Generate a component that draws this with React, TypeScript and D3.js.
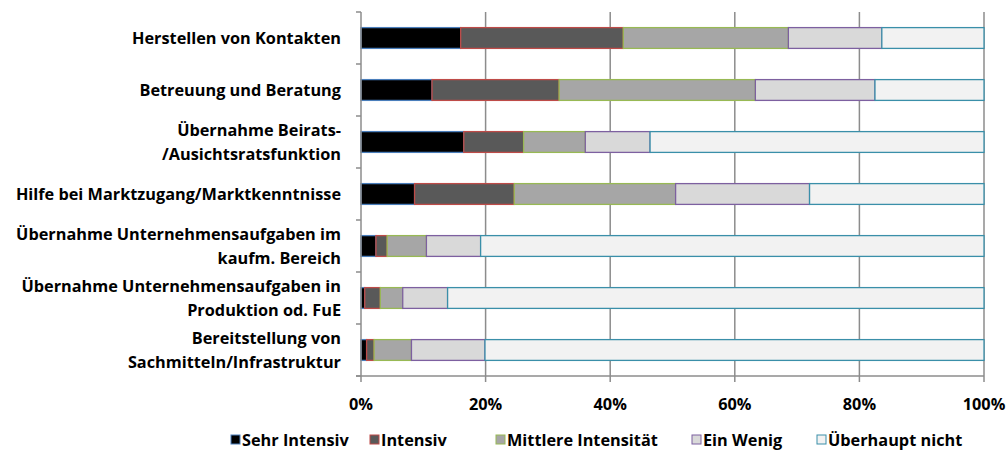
import React from "react";
import * as d3 from "d3";

const categories: string[][] = [
  ["Herstellen von Kontakten"],
  ["Betreuung und Beratung"],
  ["Übernahme Beirats-", "/Ausichtsratsfunktion"],
  ["Hilfe bei Marktzugang/Marktkenntnisse"],
  ["Übernahme Unternehmensaufgaben im", "kaufm. Bereich"],
  ["Übernahme Unternehmensaufgaben in", "Produktion od. FuE"],
  ["Bereitstellung von", "Sachmitteln/Infrastruktur"],
];

const seriesNames = ["Sehr Intensiv", "Intensiv", "Mittlere Intensität", "Ein Wenig", "Überhaupt nicht"];

const sehrIntensiv = [16.0, 11.4, 16.5, 8.6, 2.4, 0.6, 0.9];
const intensiv = [26.1, 20.4, 9.6, 16.0, 1.8, 2.5, 1.2];
const mittlere = [26.5, 31.5, 9.9, 25.9, 6.3, 3.6, 6.0];
const einWenig = [15.0, 19.2, 10.4, 21.5, 8.7, 7.2, 11.8];
const ueberhauptNicht = [16.4, 17.5, 53.6, 28.0, 80.8, 86.1, 80.1];

const xTicks = [0, 20, 40, 60, 80, 100];

const fills = ["#000000", "#595959", "#A6A6A6", "#D9D9D9", "#F2F2F2"];
const strokes = ["#4A7EBB", "#BE4B48", "#98B954", "#7D60A0", "#3A8FA9"];

export default function App() {
  const W = 1008, H = 452;
  const left = 361, right = 984, top = 12, bottom = 376;
  const font = "'Open Sans', sans-serif";
  const fs = 16.3;

  const seriesData = [sehrIntensiv, intensiv, mittlere, einWenig, ueberhauptNicht];
  const rows = categories.map((c, i) => {
    const o: any = { key: i };
    seriesNames.forEach((s, j) => (o[s] = seriesData[j][i]));
    return o;
  });
  const stacked = d3.stack<any>().keys(seriesNames)
    .offset(d3.stackOffsetExpand)(rows);

  const x = d3.scaleLinear().domain([0, 1]).range([left, right]);
  const y = d3.scaleBand<number>().domain(d3.range(categories.length))
    .range([top, bottom]).paddingInner(0.6).paddingOuter(0.3);
  const band = (bottom - top) / categories.length;

  const legendX = [231, 370, 496, 692, 817];

  return (
    <svg width={W} height={H} style={{ position: "absolute", left: 0, top: 0 }}>
      <rect width={W} height={H} fill="#fff" />
      {/* gridlines */}
      {xTicks.slice(1).map((t) => (
        <line key={t} x1={x(t / 100)} x2={x(t / 100)} y1={top} y2={bottom + 6}
          stroke="#8C8C8C" strokeWidth={1.5} />
      ))}
      {/* bars */}
      {stacked.map((s, j) => (
        <g key={s.key}>
          {s.map((d, i) => (
            <rect key={i} x={x(d[0])} y={y(i)} width={x(d[1]) - x(d[0])} height={y.bandwidth()}
              fill={fills[j]} stroke={strokes[j]} strokeWidth={1.3} />
          ))}
        </g>
      ))}
      {/* axes */}
      <line x1={left} x2={left} y1={top} y2={bottom + 6} stroke="#8C8C8C" strokeWidth={1.5} />
      <line x1={left - 5} x2={right} y1={bottom} y2={bottom} stroke="#8C8C8C" strokeWidth={1.5} />
      {d3.range(categories.length + 1).map((i) => (
        <line key={i} x1={left - 5} x2={left} y1={top + i * band} y2={top + i * band}
          stroke="#8C8C8C" strokeWidth={1.5} />
      ))}
      {/* x labels */}
      {xTicks.map((t) => (
        <text key={t} x={x(t / 100)} y={410} textAnchor="middle" fontFamily={font}
          fontWeight="bold" fontSize={fs} fill="#000">{t}%</text>
      ))}
      {/* category labels */}
      {categories.map((lines, i) => {
        const cy = (y(i) as number) + y.bandwidth() / 2;
        const lh = 23.3;
        return (
          <text key={i} textAnchor="end" fontFamily={font} fontWeight="bold" fontSize={fs} fill="#000">
            {lines.map((l, k) => (
              <tspan key={k} x={341} y={cy + 6 + (k - (lines.length - 1) / 2) * lh}>{l}</tspan>
            ))}
          </text>
        );
      })}
      {/* legend */}
      {seriesNames.map((s, j) => (
        <g key={s} transform={`translate(${legendX[j]},440)`}>
          <rect x={0} y={-5} width={9} height={9} fill={fills[j]} stroke={strokes[j]} strokeWidth={1} />
          <text x={11} y={6} fontFamily={font} fontWeight="bold" fontSize={fs} fill="#000">{s}</text>
        </g>
      ))}
    </svg>
  );
}
